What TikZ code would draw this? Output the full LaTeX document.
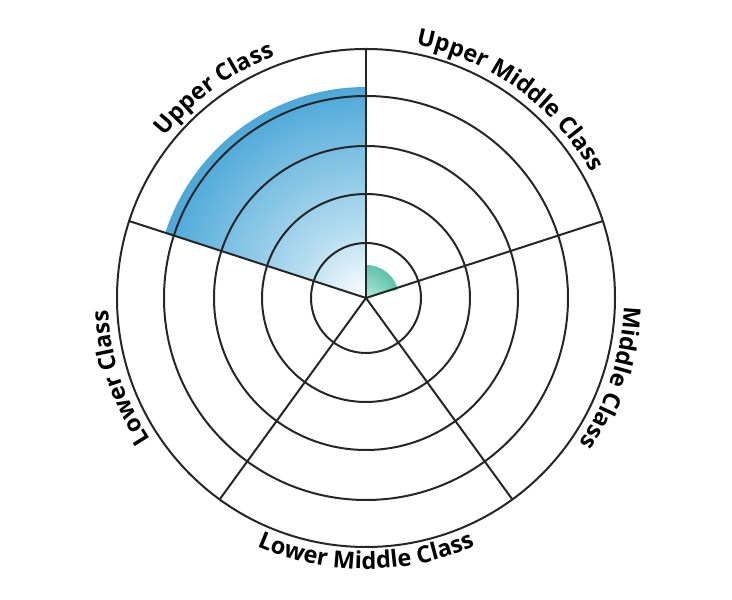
\documentclass[tikz,border=0pt]{standalone}
\usepackage{fontspec}
\setmainfont{Open Sans}
\usetikzlibrary{decorations.text}
\pgfdeclareradialshading{blueshade}{\pgfpoint{0bp}{0bp}}{rgb(0bp)=(1,1,1); rgb(8bp)=(0.72,0.87,0.94); rgb(25bp)=(0.3,0.66,0.85); rgb(50bp)=(0.06,0.55,0.8)}
\pgfdeclareradialshading{tealshade}{\pgfpoint{0bp}{0bp}}{rgb(0bp)=(0.7,0.92,0.86); rgb(50bp)=(0.04,0.6,0.48)}
\tikzset{ring/.style={draw=black!85,line width=2pt},
 lbl/.style={decorate,decoration={text along path,text align=center,text={|\bfseries\fontsize{23.5}{23.5}\selectfont|#1}}}}
\begin{document}
\begin{tikzpicture}[x=1pt,y=1pt]
\useasboundingbox (0,0) rectangle (732,600);
\coordinate (c) at (366,302);
\begin{scope}
\clip (c) -- ++(90:220) arc (90:162:220) -- cycle;
\shade[shading=blueshade] (c) circle (211);
\end{scope}
\begin{scope}
\clip (c) -- ++(90:40) arc (90:15:40) -- cycle;
\shade[shading=tealshade] (c) circle (33);
\end{scope}
\foreach \r in {55,104,152,202,249} \draw[ring] (c) circle (\r);
\foreach \a in {90,18,-54,-126,162} \draw[ring] (c) -- ++(\a:249);
\path[lbl={Upper Class}] (c) ++(162:258) arc (162:90:258);
\path[lbl={Upper Middle Class}] (c) ++(104:258) arc (104:4:258);
\path[lbl={Middle Class}] (c) ++(22:258) arc (22:-58:258);
\path[lbl={Lower Class}] (c) ++(238:258) arc (238:158:258);
\path[lbl={Lower Middle Class}] (c) ++(-138:271) arc (-138:-42:271);
\end{tikzpicture}
\end{document}
